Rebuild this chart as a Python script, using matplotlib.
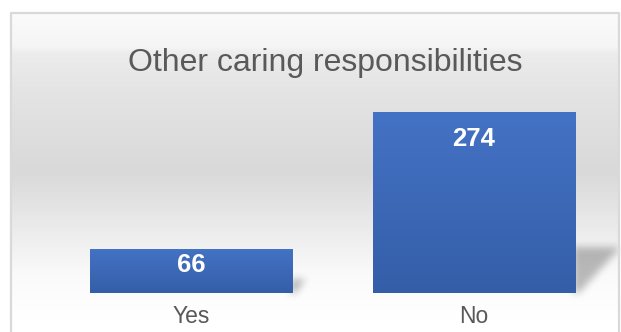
import numpy as np
import matplotlib
matplotlib.use('Agg')
import matplotlib.pyplot as plt
from matplotlib.path import Path

plt.rcParams['font.family'] = ['Liberation Sans', 'DejaVu Sans']

categories = ['Yes', 'No']
counts = [66, 274]
title = 'Other caring responsibilities'

W, H, DPI = 621, 332, 100
TEXT_GREY = '#595959'
BAR_TOP = np.array([0x44, 0x72, 0xC4]) / 255
BAR_BOTTOM = np.array([0x34, 0x5E, 0xA8]) / 255


def box_blur(img, r):
    """Separable box blur, applied twice for a softer falloff."""
    k = np.ones(2 * r + 1) / (2 * r + 1)
    for _ in range(2):
        img = np.apply_along_axis(lambda v: np.convolve(v, k, mode='same'), 0, img)
        img = np.apply_along_axis(lambda v: np.convolve(v, k, mode='same'), 1, img)
    return img


fig = plt.figure(figsize=(W / DPI, H / DPI), dpi=DPI)
fig.patch.set_facecolor('white')

# background layer in pixel units (y measured up from the bottom)
bg = fig.add_axes([0, 0, 1, 1], zorder=0)
bg.set_xlim(0, W)
bg.set_ylim(0, H)
bg.axis('off')

frame_left, frame_top, frame_right = 10.5, H - 13, 619
rows = np.arange(H)[::-1] + 0.5           # distance from the top edge
stops_y = [13, 60, 167, 250, 290, 297, 332]
stops_v = [255, 250, 217, 228, 236, 245, 251]
shade = np.interp(rows, stops_y, stops_v) / 255
grad = np.repeat(shade[:, None], 3, axis=1)[:, None, :]
bg.imshow(grad, extent=[frame_left, frame_right, 0, frame_top], origin='upper',
          aspect='auto', interpolation='bilinear', zorder=1)
bg.plot([frame_left, frame_left, frame_right, frame_right],
        [-5, frame_top, frame_top, -5], color='#D9D9D9', lw=1.6, zorder=3)

# plot area
ax = fig.add_axes([49.5 / W, 39.3 / H, 566 / W, 198 / H], zorder=2)
ax.patch.set_alpha(0)
ax.set_xlim(-0.5, 1.5)
ax.set_ylim(0, 300)
for s in ax.spines.values():
    s.set_visible(False)
ax.set_yticks([])
ax.set_xticks(range(len(categories)))
ax.set_xticklabels(categories, fontsize=16.5, color=TEXT_GREY)
ax.tick_params(axis='x', length=0, pad=9)

bars = ax.bar(range(len(categories)), counts, width=0.714, color='none', zorder=3)

# soft cast shadows to the lower right of each bar, built in pixel space
mask = np.zeros((H, W))
yy, xx = np.mgrid[0:H, 0:W]
pts = np.column_stack([xx.ravel() + 0.5, yy.ravel() + 0.5])
for rect in bars:
    (x0, y0), (x1, y1) = ax.transData.transform(
        [(rect.get_x(), 0), (rect.get_x() + rect.get_width(), rect.get_height())])
    s = max(0.25 * (y1 - y0), 14)
    tri = Path([(x1 - 2, y0), (x1 - 2, y0 + s), (x1 + s, y0 + s), (x1 + 4, y0)])
    mask = np.maximum(mask, tri.contains_points(pts).reshape(H, W).astype(float))
mask = box_blur(mask, 4)
shadow = np.zeros((H, W, 4))
shadow[..., 3] = 0.26 * mask
bg.imshow(shadow, extent=[0, W, 0, H], origin='lower', aspect='auto', zorder=2)

# vertical gradient fill clipped to each bar
t = np.linspace(0, 1, 64)[:, None]
bar_grad = (BAR_BOTTOM * (1 - t) + BAR_TOP * t)[:, None, :]
for rect, v in zip(bars, counts):
    x = rect.get_x()
    im = ax.imshow(bar_grad, extent=[x, x + rect.get_width(), 0, v], origin='lower',
                   aspect='auto', interpolation='bilinear', zorder=3)
    im.set_clip_path(rect)

# value labels inside the top of each bar
px_per_unit = ax.transData.transform((0, 1))[1] - ax.transData.transform((0, 0))[1]
for rect, v in zip(bars, counts):
    h_px = v * px_per_unit
    drop = min(27, h_px - 28) / px_per_unit
    ax.text(rect.get_x() + rect.get_width() / 2, v - drop, str(v),
            ha='center', va='center', fontsize=18.5, fontweight='bold',
            color='white', zorder=5)

fig.text(325 / W, 1 - 63 / H, title, ha='center', va='center',
         fontsize=23, color=TEXT_GREY)

fig.savefig('out.png', dpi=DPI)
